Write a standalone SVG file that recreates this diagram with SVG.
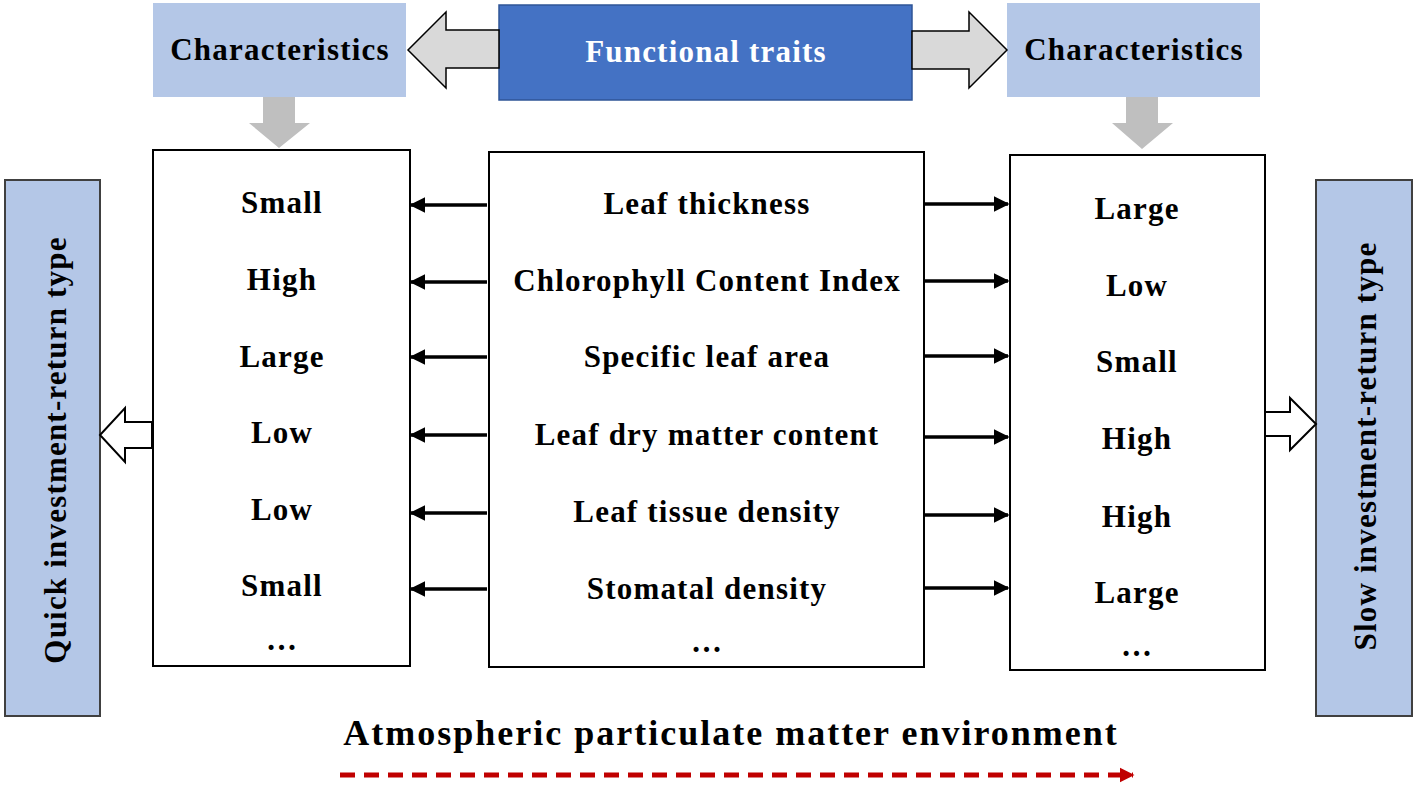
<svg xmlns="http://www.w3.org/2000/svg" width="1418" height="786" viewBox="0 0 1418 786">
<defs>
<style>
.t{font-family:"Liberation Serif","Times New Roman",serif;font-weight:bold;font-size:31px;letter-spacing:1.2px;fill:#000;text-anchor:middle}
.lb{fill:#b4c7e7}
.side{fill:#b4c7e7;stroke:#404040;stroke-width:2}
.box{fill:#fff;stroke:#000;stroke-width:2}
.blk{fill:#d9d9d9;stroke:#000;stroke-width:1.5}
.down{fill:#bfbfbf}
.hol{fill:#fff;stroke:#000;stroke-width:2}
.ar{stroke:#000;stroke-width:3.5;fill:none}
</style>
<marker id="ah" viewBox="0 0 10 10" refX="9" refY="5" markerWidth="4.5" markerHeight="4.5" orient="auto">
<path d="M0,0 L10,5 L0,10 Z" fill="#000"/>
</marker>
<marker id="rh" viewBox="0 0 10 10" refX="9" refY="5" markerWidth="3" markerHeight="3.2" orient="auto">
<path d="M0,0 L10,5 L0,10 Z" fill="#c00000"/>
</marker>
</defs>
<rect width="1418" height="786" fill="#fff"/>

<g id="functional-traits">
<rect x="499" y="5" width="413" height="95" fill="#4472c4" stroke="#2f5597" stroke-width="1.5"/>
<text class="t" x="706" y="62" style="fill:#fff">Functional traits</text>
</g>
<g id="char-left">
<rect class="lb" x="153" y="3" width="253" height="94"/>
<text class="t" x="280" y="60">Characteristics</text>
</g>
<g id="char-right">
<rect class="lb" x="1007" y="3" width="253" height="94"/>
<text class="t" x="1134" y="60">Characteristics</text>
</g>
<g id="quick">
<rect class="side" x="5" y="180" width="95" height="536"/>
<text class="t" transform="translate(66,450) rotate(-90)">Quick investment-return type</text>
</g>
<g id="slow">
<rect class="side" x="1316" y="180" width="96" height="536"/>
<text class="t" transform="translate(1376,446) rotate(-90)">Slow investment-return type</text>
</g>
<g id="left-box">
<rect class="box" x="153" y="150" width="257" height="516"/>
<text class="t" x="282" y="213">Small</text>
<text class="t" x="282" y="290">High</text>
<text class="t" x="282" y="367">Large</text>
<text class="t" x="282" y="443">Low</text>
<text class="t" x="282" y="520">Low</text>
<text class="t" x="282" y="596">Small</text>
<text class="t" x="282" y="650">…</text>
</g>
<g id="mid-box">
<rect class="box" x="489" y="152" width="435" height="515"/>
<text class="t" x="707" y="214">Leaf thickness</text>
<text class="t" x="707" y="291">Chlorophyll Content Index</text>
<text class="t" x="707" y="367">Specific leaf area</text>
<text class="t" x="707" y="445">Leaf dry matter content</text>
<text class="t" x="707" y="522">Leaf tissue density</text>
<text class="t" x="707" y="599">Stomatal density</text>
<text class="t" x="707" y="652">…</text>
</g>
<g id="right-box">
<rect class="box" x="1010" y="155" width="255" height="515"/>
<text class="t" x="1137" y="219">Large</text>
<text class="t" x="1137" y="296">Low</text>
<text class="t" x="1137" y="372">Small</text>
<text class="t" x="1137" y="449">High</text>
<text class="t" x="1137" y="527">High</text>
<text class="t" x="1137" y="603">Large</text>
<text class="t" x="1137" y="656">…</text>
</g>
<g id="environment">
<text class="t" x="731" y="745" style="font-size:36px;letter-spacing:2px">Atmospheric particulate matter environment</text>
</g>

<g id="connectors">
<polygon class="blk" points="499,30 446,30 446,12 408,50 446,88 446,68 499,68"/>
<polygon class="blk" points="912,31 969,31 969,12 1007,50 969,88 969,69 912,69"/>
<polygon class="down" points="263,97 295,97 295,123 310,123 279,148 249,123 263,123"/>
<polygon class="down" points="1126,97 1158,97 1158,123 1173,123 1142,149 1112,123 1126,123"/>
<polygon class="hol" points="152,422 125,422 125,408 100,435 125,462 125,448 152,448"/>
<polygon class="hol" points="1265,412 1290,412 1290,398 1316,424 1290,450 1290,436 1265,436"/>
<g marker-end="url(#ah)">
<line class="ar" x1="487" y1="205" x2="411" y2="205"/>
<line class="ar" x1="487" y1="282" x2="411" y2="282"/>
<line class="ar" x1="487" y1="357" x2="411" y2="357"/>
<line class="ar" x1="487" y1="435" x2="411" y2="435"/>
<line class="ar" x1="487" y1="513" x2="411" y2="513"/>
<line class="ar" x1="487" y1="589" x2="411" y2="589"/>
<line class="ar" x1="925" y1="204" x2="1008" y2="204"/>
<line class="ar" x1="925" y1="281" x2="1008" y2="281"/>
<line class="ar" x1="925" y1="356" x2="1008" y2="356"/>
<line class="ar" x1="925" y1="437" x2="1008" y2="437"/>
<line class="ar" x1="925" y1="515" x2="1008" y2="515"/>
<line class="ar" x1="925" y1="588" x2="1008" y2="588"/>
</g>
<line x1="340" y1="775" x2="1133" y2="775" stroke="#c00000" stroke-width="5" stroke-dasharray="15,9" marker-end="url(#rh)"/>
</g>
</svg>
